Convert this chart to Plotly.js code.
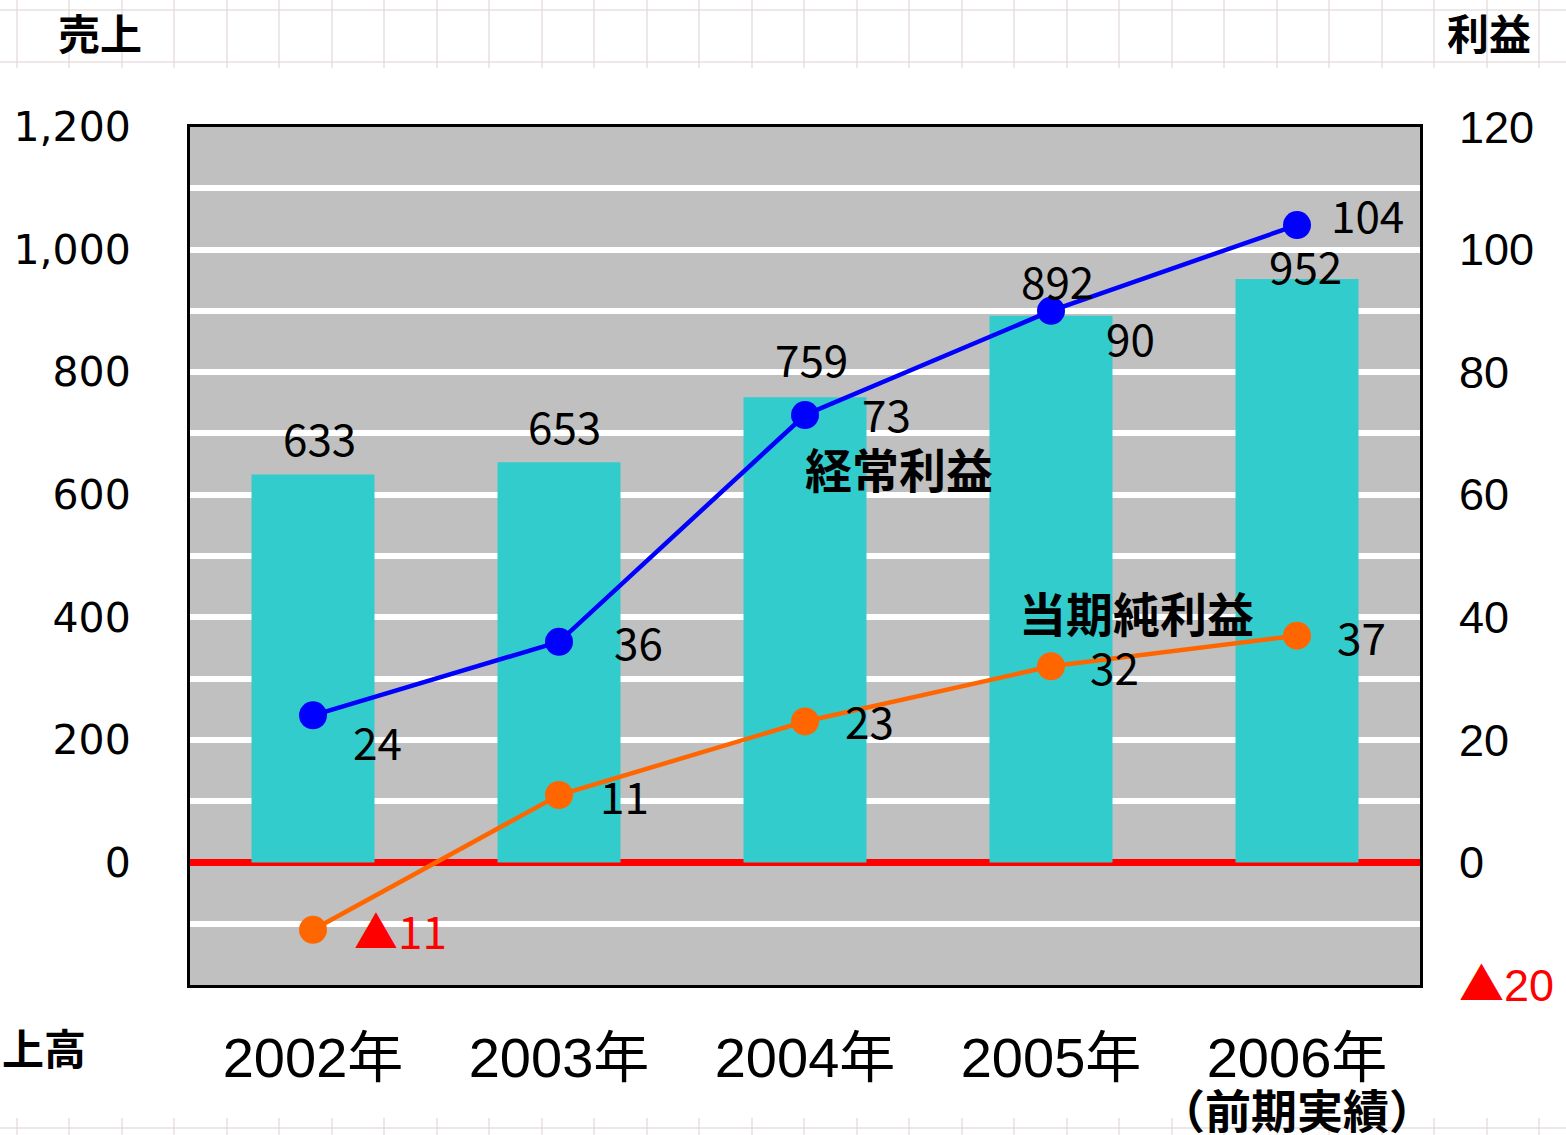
<!DOCTYPE html>
<html><head><meta charset="utf-8">
<script src="https://cdn.plot.ly/plotly-3.0.1.min.js"></script>
<style>
html,body{margin:0;padding:0;background:#fff;}
#wrap{position:relative;width:1566px;height:1135px;}
.paper{position:absolute;left:0;width:1566px;
  background-image:
    repeating-linear-gradient(to right, rgba(225,215,215,0.6) 0 2px, transparent 2px 52.5px),
    repeating-linear-gradient(to bottom, rgba(225,215,215,0.6) 0 2px, transparent 2px 52px);
  background-position: 16px 9px, 0 9px;}
#bgTop{top:0;height:68px;}
#bgBot{top:1118px;height:17px;}
#chart{position:absolute;left:0;top:0;width:1566px;height:1135px;}
</style>
</head><body><div id="wrap"><div id="bgTop" class="paper"></div><div id="bgBot" class="paper"></div><div id="chart"></div></div>
<script>
// ---- data ----
const categories = ['2002年', '2003年', '2004年', '2005年', '2006年'];
const categoryNote = '（前期実績）';
const sales = [633, 653, 759, 892, 952];            // 売上高 (left axis)
const ordinaryProfit = [24, 36, 73, 90, 104];       // 経常利益 (right axis)
const netProfit = [-11, 11, 23, 32, 37];            // 当期純利益 (right axis)
const salesGridVals = [-200, -100, 0, 100, 200, 300, 400, 500, 600, 700, 800, 900, 1000, 1100, 1200];
const salesTickLabels = ['', '', '0', '', '200', '', '400', '', '600', '', '800', '', '1,000', '', '1,200'];
const profitTickVals = [-20, 0, 20, 40, 60, 80, 100, 120];
const profitTickLabels = ['▲20', '0', '20', '40', '60', '80', '100', '120'];
const seriesNames = {sales: '売上高', ordinary: '経常利益', net: '当期純利益'};
const cornerTexts = {leftTop: '売上', rightTop: '利益', leftBottom: '上高'};

// ---- style ----
const C_BAR = '#33CCCC', C_BLUE = '#0000FF', C_ORANGE = '#FF6600', C_RED = '#FF0000';
const LABEL_FONT = 'Noto Sans CJK JP, sans-serif';
const TRI = t => '<span style="font-family:Noto Sans CJK JP">▲</span>' + t.replace('▲', '');
const fmtProfit = v => v < 0 ? '<span style="color:' + C_RED + '">▲' + Math.abs(v) + '</span>' : String(v);
const profitTickText = profitTickLabels.map((t, i) => profitTickVals[i] < 0 ? '<span style="color:' + C_RED + '">' + TRI(t) + '</span>' : t);

// label offsets in pixels (style)
const barLabelLift = [37, 37, 39, 36, 14];
const barLabelDx = [6, 5, 6, 6, 8];
const blueLabelOff = [[38, 26], [53, -1], [55, -2], [53, 26], [32, -11]];
const orangeLabelOff = [[39, 0], [39, 0], [38, -1], [37, 0], [38, 0]];

const traces = [
  {type: 'bar', name: seriesNames.sales, x: categories, y: sales, width: 0.5,
   marker: {color: C_BAR, line: {width: 0}}, yaxis: 'y', hoverinfo: 'x+y'},
  {type: 'scatter', mode: 'lines+markers', name: seriesNames.ordinary, x: categories, y: ordinaryProfit,
   yaxis: 'y2', line: {color: C_BLUE, width: 4.5}, marker: {color: C_BLUE, size: 28}},
  {type: 'scatter', mode: 'lines+markers', name: seriesNames.net, x: categories, y: netProfit,
   yaxis: 'y2', line: {color: C_ORANGE, width: 4.5}, marker: {color: C_ORANGE, size: 28}}
];

const annotations = [];
categories.forEach((c, i) => {
  annotations.push({x: c, y: sales[i], xref: 'x', yref: 'y', text: String(sales[i]), showarrow: false,
    xanchor: 'center', yanchor: 'middle', xshift: barLabelDx[i], yshift: barLabelLift[i],
    font: {family: LABEL_FONT, size: 44, color: '#000'}});
  annotations.push({x: c, y: ordinaryProfit[i], xref: 'x', yref: 'y2', text: fmtProfit(ordinaryProfit[i]), showarrow: false,
    xanchor: 'left', yanchor: 'middle', xshift: blueLabelOff[i][0], yshift: -blueLabelOff[i][1],
    font: {family: LABEL_FONT, size: 44, color: '#000'}});
  annotations.push({x: c, y: netProfit[i], xref: 'x', yref: 'y2', text: fmtProfit(netProfit[i]), showarrow: false,
    xanchor: 'left', yanchor: 'middle', xshift: orangeLabelOff[i][0], yshift: -orangeLabelOff[i][1],
    font: {family: LABEL_FONT, size: 44, color: '#000'}});
});
// series names
annotations.push({x: categories[2], y: 64.4, xref: 'x', yref: 'y2', text: '<b>' + seriesNames.ordinary + '</b>', showarrow: false,
  xanchor: 'left', yanchor: 'middle', xshift: -2, font: {family: LABEL_FONT, size: 47, color: '#000'}});
annotations.push({x: categories[3], y: 40.9, xref: 'x', yref: 'y2', text: '<b>' + seriesNames.net + '</b>', showarrow: false,
  xanchor: 'left', yanchor: 'middle', xshift: -34, font: {family: LABEL_FONT, size: 47, color: '#000'}});
// category note under the last category
annotations.push({x: categories[4], y: -0.143, xref: 'x', yref: 'paper', text: '<b>' + categoryNote + '</b>', showarrow: false,
  xanchor: 'center', yanchor: 'middle', borderpad: 0, font: {family: LABEL_FONT, size: 46, color: '#000'}});
// corner texts
annotations.push({x: -0.073, y: 1.111, xref: 'paper', yref: 'paper', text: '<b>' + cornerTexts.leftTop + '</b>', showarrow: false,
  xanchor: 'center', yanchor: 'middle', font: {family: LABEL_FONT, size: 42, color: '#000'}});
annotations.push({x: 1.056, y: 1.111, xref: 'paper', yref: 'paper', text: '<b>' + cornerTexts.rightTop + '</b>', showarrow: false,
  xanchor: 'center', yanchor: 'middle', font: {family: LABEL_FONT, size: 42, color: '#000'}});
annotations.push({x: -0.1545, y: -0.072, xref: 'paper', yref: 'paper', text: '<b>' + cornerTexts.leftBottom + '</b>', showarrow: false,
  xanchor: 'left', yanchor: 'middle', font: {family: LABEL_FONT, size: 42, color: '#000'}});

const layout = {
  width: 1566, height: 1135,
  margin: {l: 190, r: 146, t: 127, b: 150, pad: 0},
  paper_bgcolor: 'rgba(255,255,255,0)', plot_bgcolor: '#C0C0C0',
  showlegend: false,
  xaxis: {type: 'category', range: [-0.5, 4.5], showgrid: false, zeroline: false,
    showline: true, mirror: true, linecolor: '#000', linewidth: 3,
    ticks: '', ticklabelstandoff: 22,
    tickfont: {family: 'Liberation Sans, Noto Sans CJK JP, sans-serif', size: 56, color: '#000'}},
  yaxis: {range: [-200, 1200], tickmode: 'array', tickvals: salesGridVals, ticktext: salesTickLabels,
    showgrid: true, gridcolor: '#FFFFFF', gridwidth: 6,
    zeroline: true, zerolinecolor: C_RED, zerolinewidth: 7,
    showline: true, mirror: true, linecolor: '#000', linewidth: 3,
    ticks: '', ticklabelstandoff: 48,
    tickfont: {family: 'DejaVu Sans, sans-serif', size: 41, color: '#000'}},
  yaxis2: {range: [-20, 120], overlaying: 'y', side: 'right', tickmode: 'array',
    tickvals: profitTickVals, ticktext: profitTickText,
    showgrid: false, zeroline: false, showline: false, ticks: '', ticklabelstandoff: 38,
    tickfont: {family: 'Liberation Sans, sans-serif', size: 45, color: '#000'}},
  annotations: annotations,
  bargap: 0.5
};

Plotly.newPlot('chart', traces, layout, {displayModeBar: false, staticPlot: true});
</script>
</body></html>
